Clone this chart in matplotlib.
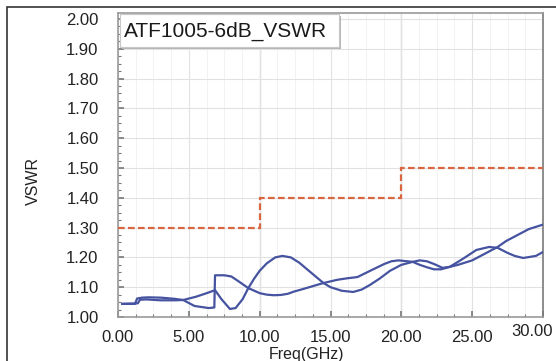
import matplotlib
matplotlib.use("Agg")
import matplotlib.pyplot as plt
from matplotlib.patches import Rectangle
from matplotlib.ticker import MultipleLocator, FormatStrFormatter
import matplotlib.transforms as mtransforms

# ---- data ----
freq_a = [0.3, 1.2, 1.35, 1.7, 2.2, 3.0, 4.0, 4.6, 5.5, 6.2, 6.85, 7.3, 7.9, 8.3, 8.8, 9.2, 9.6,
          10.0, 10.5, 11.1, 11.6, 12.2, 12.8, 13.6, 14.5, 15.0, 15.8, 16.6, 17.2, 17.8, 18.5,
          19.2, 20.0, 20.8, 21.3, 21.8, 22.3, 22.9, 23.4, 24.0, 25.0, 26.0, 26.8, 27.4, 28.0,
          29.0, 30.0]
vswr_a = [1.044, 1.044, 1.062, 1.065, 1.066, 1.065, 1.061, 1.057, 1.068, 1.079, 1.09, 1.06,
          1.027, 1.03, 1.06, 1.097, 1.128, 1.155, 1.18, 1.2, 1.205, 1.2, 1.182, 1.15, 1.114,
          1.1, 1.088, 1.084, 1.092, 1.108, 1.13, 1.155, 1.175, 1.185, 1.19, 1.187, 1.178,
          1.165, 1.168, 1.175, 1.19, 1.215, 1.235, 1.255, 1.27, 1.295, 1.31]

freq_b = [0.3, 1.4, 1.55, 2.0, 3.0, 4.0, 4.6, 5.4, 6.4, 6.8, 6.85, 7.5, 8.0, 8.5, 9.2, 10.0,
          10.5, 11.0, 11.5, 12.0, 12.4, 13.0, 13.5, 14.5, 15.5, 16.2, 16.9, 17.8, 18.8, 19.3,
          19.8, 20.8, 21.3, 21.8, 22.3, 22.8, 23.4, 24.0, 24.5, 25.3, 26.2, 26.8, 27.5, 28.0,
          28.6, 29.5, 30.0]
vswr_b = [1.044, 1.046, 1.058, 1.059, 1.056, 1.056, 1.057, 1.037, 1.03, 1.032, 1.14, 1.14,
          1.136, 1.12, 1.097, 1.08, 1.075, 1.073, 1.074, 1.078, 1.085, 1.093, 1.1, 1.114, 1.125,
          1.13, 1.134, 1.155, 1.178, 1.187, 1.19, 1.185, 1.175, 1.167, 1.16, 1.16, 1.168,
          1.185, 1.2, 1.225, 1.235, 1.232, 1.215, 1.205, 1.198, 1.205, 1.218]

limit_edges = [0, 10, 20, 30]
limit_values = [1.30, 1.40, 1.50]

x_ticks = [0, 5, 10, 15, 20, 25, 30]
y_ticks = [1.0, 1.1, 1.2, 1.3, 1.4, 1.5, 1.6, 1.7, 1.8, 1.9, 2.0]

title_text = "ATF1005-6dB_VSWR"

# ---- figure ----
W, H = 556, 361
plt.rcParams['font.family'] = ['Liberation Sans', 'DejaVu Sans']
fig = plt.figure(figsize=(W / 100, H / 100), dpi=100)

# outer frame
fig.add_artist(Rectangle((7 / W, -0.05), 1.2, 1 - 7 / H + 0.05, transform=fig.transFigure,
                         fill=False, ec='#333333', lw=1.2))

ax = fig.add_axes([118 / W, 1 - 317 / H, (543 - 118) / W, (317 - 13) / H])
ax.set_xlim(0, 30)
ax.set_ylim(1.0, 2.02)

ax.set_xticks(x_ticks)
ax.set_yticks(y_ticks)
ax.xaxis.set_minor_locator(MultipleLocator(1.25))
ax.yaxis.set_minor_locator(MultipleLocator(0.025))
ax.xaxis.set_major_formatter(FormatStrFormatter('%.2f'))
ax.yaxis.set_major_formatter(FormatStrFormatter('%.2f'))

ax.grid(which='major', color='#e2e2e2', lw=0.8)
ax.grid(which='minor', axis='x', color='#f0f0f0', lw=0.6)
for xv in (10, 20):
    ax.axvline(xv, color='#c4c4c4', lw=0.9, zorder=1)

for s in ax.spines.values():
    s.set_color('#9a9a9a')
    s.set_linewidth(1.2)
ax.spines['right'].set_color('#7a7a7a')

ax.tick_params(which='both', direction='in', color='#777777', labelsize=12,
               labelcolor='#222222', top=False, right=False)
ax.tick_params(which='major', length=4, width=1.2)
ax.tick_params(which='minor', length=2.5, width=0.8)
ax.tick_params(axis='y', pad=14)
ax.tick_params(axis='x', pad=9)

ax.stairs(limit_values, limit_edges, baseline=None, color='#d8663f', lw=1.6,
          linestyle=(0, (3, 1.5)), zorder=3)
ax.plot(freq_a, vswr_a, color='#4553a0', lw=1.6, zorder=4, solid_joinstyle='round')
ax.plot(freq_b, vswr_b, color='#4553a0', lw=1.6, zorder=4, solid_joinstyle='round')

# shift last x tick label left/up as in the reference
fig.canvas.draw()
last = ax.get_xticklabels()[-1]
last.set_transform(last.get_transform() +
                   mtransforms.ScaledTranslation(-11 / 100, 6 / 100, fig.dpi_scale_trans))

# title box with shadow
fig.add_artist(Rectangle((122 / W, 1 - 49 / H), 219 / W, 33 / H, transform=fig.transFigure,
                         fc='#b5b5b5', ec='none', zorder=5))
fig.add_artist(Rectangle((120 / W, 1 - 47 / H), 219 / W, 33 / H, transform=fig.transFigure,
                         fc='white', ec='#c8c8c8', lw=0.8, zorder=6))
fig.text(124 / W, 1 - 31 / H, title_text, fontsize=15, ha='left', va='center',
         color='#1a1a1a', zorder=7)

fig.text(33 / W, 1 - 181 / H, 'VSWR', rotation=90, fontsize=11.5, ha='center', va='center',
         color='#222222')
fig.text(307 / W, 1 - 354 / H, 'Freq(GHz)', fontsize=11.5, ha='center', va='center',
         color='#222222')

fig.savefig('out.png', dpi=100)
